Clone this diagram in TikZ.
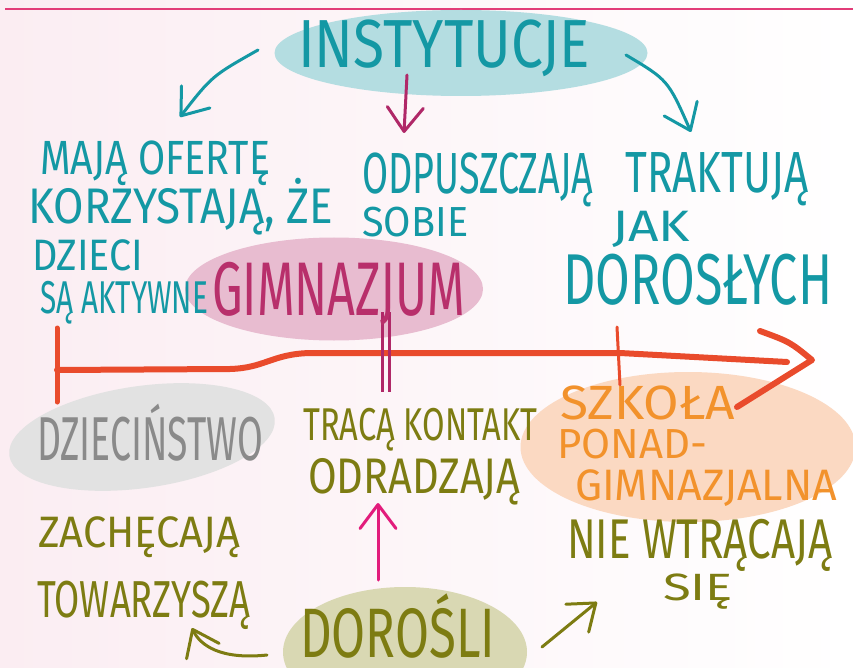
\documentclass[tikz,border=0pt]{standalone}
\usepackage{fontspec}
\newfontfamily\hand{Fira Sans}
\usetikzlibrary{shapes.geometric,arrows.meta}
\definecolor{bgpink}{HTML}{FBEDF2}
\definecolor{topline}{HTML}{E23C78}
\definecolor{tealtx}{HTML}{1498A4}
\definecolor{tealbg}{HTML}{B4DDE1}
\definecolor{gimtx}{HTML}{B82F6B}
\definecolor{gimbg}{HTML}{E8BCD0}
\definecolor{crim}{HTML}{B02868}
\definecolor{redl}{HTML}{E94B2C}
\definecolor{greytx}{HTML}{8A8A8A}
\definecolor{greybg}{HTML}{E2E2E2}
\definecolor{oltx}{HTML}{7D7C12}
\definecolor{olbg}{HTML}{D9D8B3}
\definecolor{ortx}{HTML}{F2922C}
\definecolor{orbg}{HTML}{FBD9C2}
\definecolor{magar}{HTML}{E21C7C}
\newcommand{\hwt}[3]{{\hand\fontsize{#1}{#1}\selectfont\resizebox{#2pt}{\height}{#3}}}
\begin{document}
\begin{tikzpicture}[x=1pt,y=-1pt,
  txt/.style={inner sep=0pt, anchor=base west},
  blob/.style={ellipse, inner sep=0pt, draw=none},
  arr/.style={line width=3pt, line cap=round, line join=round,
    -{Straight Barb[length=24pt,width=36pt,line cap=round,line join=round]}},
  redline/.style={draw=redl, line cap=round, line join=round}]
\useasboundingbox (0,0) rectangle (853,668);
\clip (0,0) rectangle (853,668);
\fill[left color=bgpink, right color=white] (0,0) rectangle (853,668);
\draw[topline, line width=1.5pt] (5,9) -- (853,9);

% blobs
\node[blob, fill=tealbg, minimum width=373pt, minimum height=86pt] (inst) at (461,53) {};
\node[blob, fill=gimbg, minimum width=298pt, minimum height=103pt] (gimn) at (334,289) {};
\node[blob, fill=greybg, minimum width=268pt, minimum height=102pt, rotate=8] (dzie) at (142,437) {};
\node[blob, fill=orbg, minimum width=335pt, minimum height=150pt] (szk) at (688,447) {};
\node[blob, fill=olbg, minimum width=244pt, minimum height=130pt] (dor) at (405,652) {};

% timeline
\draw[redline, line width=6pt] (57,370) -- (230,369) .. controls (265,368) and (272,354) .. (310,353) -- (620,353) -- (787,362);
\draw[redline, line width=5pt] (57,328) -- (57,402);
\draw[redline, line width=6pt] (760,331) .. controls (790,342) .. (812,360) -- (737,407);
\draw[redline, line width=3pt] (617,327) -- (620,385);
\draw[crim, line width=3pt] (382,312) -- (382,392);
\draw[crim, line width=3pt] (389,312) -- (389,392);

% arrows
\coordinate (a1s) at (258,50);
\coordinate (a1e) at (180,117);
\coordinate (a2s) at (407,75);
\coordinate (a2e) at (404,133);
\coordinate (a3s) at (626,55);
\coordinate (a3e) at (691,132);
\coordinate (a4s) at (378,580);
\coordinate (a4e) at (378,503);
\coordinate (a5s) at (267,655);
\coordinate (a5e) at (192,628);
\coordinate (a6s) at (542,647);
\coordinate (a6e) at (597,602);
\draw[arr, tealtx] (a1s) .. controls (212,76) .. (a1e);
\draw[arr, crim] (a2s) -- (a2e);
\draw[arr, tealtx] (a3s) .. controls (668,80) .. (a3e);
\draw[arr, magar] (a4s) -- (a4e);
\draw[arr, oltx] (a5s) .. controls (220,660) and (200,645) .. (a5e);
\draw[arr, oltx] (a6s) -- (a6e);

% texts
\node[txt, text=tealtx] (instT) at (298,68) {\hwt{68}{292}{INSTYTUCJE}};
\node[txt, text=tealtx] (majaT) at (40,175) {\hwt{48}{230}{MAJĄ OFERTĘ}};
\node[txt, text=tealtx] (korzT) at (28,224) {\hwt{50}{305}{KORZYSTAJĄ, ŻE}};
\node[txt, text=tealtx] (dzieciT) at (32,270) {\hwt{44}{111}{DZIECI}};
\node[txt, text=tealtx] (aktT) at (40,313) {\hwt{46}{168}{SĄ AKTYWNE}};
\node[txt, text=tealtx] (odpT) at (362,194) {\hwt{58}{231}{ODPUSZCZAJĄ}};
\node[txt, text=tealtx] (sobieT) at (362,237) {\hwt{42}{106}{SOBIE}};
\node[txt, text=tealtx] (trakT) at (625,193) {\hwt{58}{183}{TRAKTUJĄ}};
\node[txt, text=tealtx] (jakT) at (612,241) {\hwt{44}{78}{JAK}};
\node[txt, text=tealtx] (dorosT) at (563,304) {\hwt{72}{269}{DOROSŁYCH}};
\node[txt, text=gimtx] (gimT) at (212,315) {\hwt{76}{253}{GIMNAZJUM}};
\node[txt, text=greytx] (dzieT) at (37,460) {\hwt{62}{226}{DZIECIŃSTWO}};
\node[txt, text=oltx] (tracT) at (303,440) {\hwt{46}{234}{TRACĄ KONTAKT}};
\node[txt, text=oltx] (odrT) at (308,493) {\hwt{50}{212}{ODRADZAJĄ}};
\node[txt, text=ortx] (szkT) at (560,419) {\hwt{48}{175}{SZKOŁA}};
\node[txt, text=ortx] (ponT) at (557,458) {\hwt{42}{150}{PONAD-}};
\node[txt, text=ortx] (gimnaT) at (575,500) {\hwt{44}{262}{GIMNAZJALNA}};
\node[txt, text=oltx] (zachT) at (38,547) {\hwt{44}{202}{ZACHĘCAJĄ}};
\node[txt, text=oltx] (towT) at (37,617) {\hwt{52}{213}{TOWARZYSZĄ}};
\node[txt, text=oltx] (nieT) at (567,558) {\hwt{56}{265}{NIE WTRĄCAJĄ}};
\node[txt, text=oltx] (sieT) at (663,600) {\hwt{38}{70}{SIĘ}};
\node[txt, text=oltx] (dorT) at (300,657) {\hwt{70}{195}{DOROŚLI}};
\end{tikzpicture}
\end{document}
